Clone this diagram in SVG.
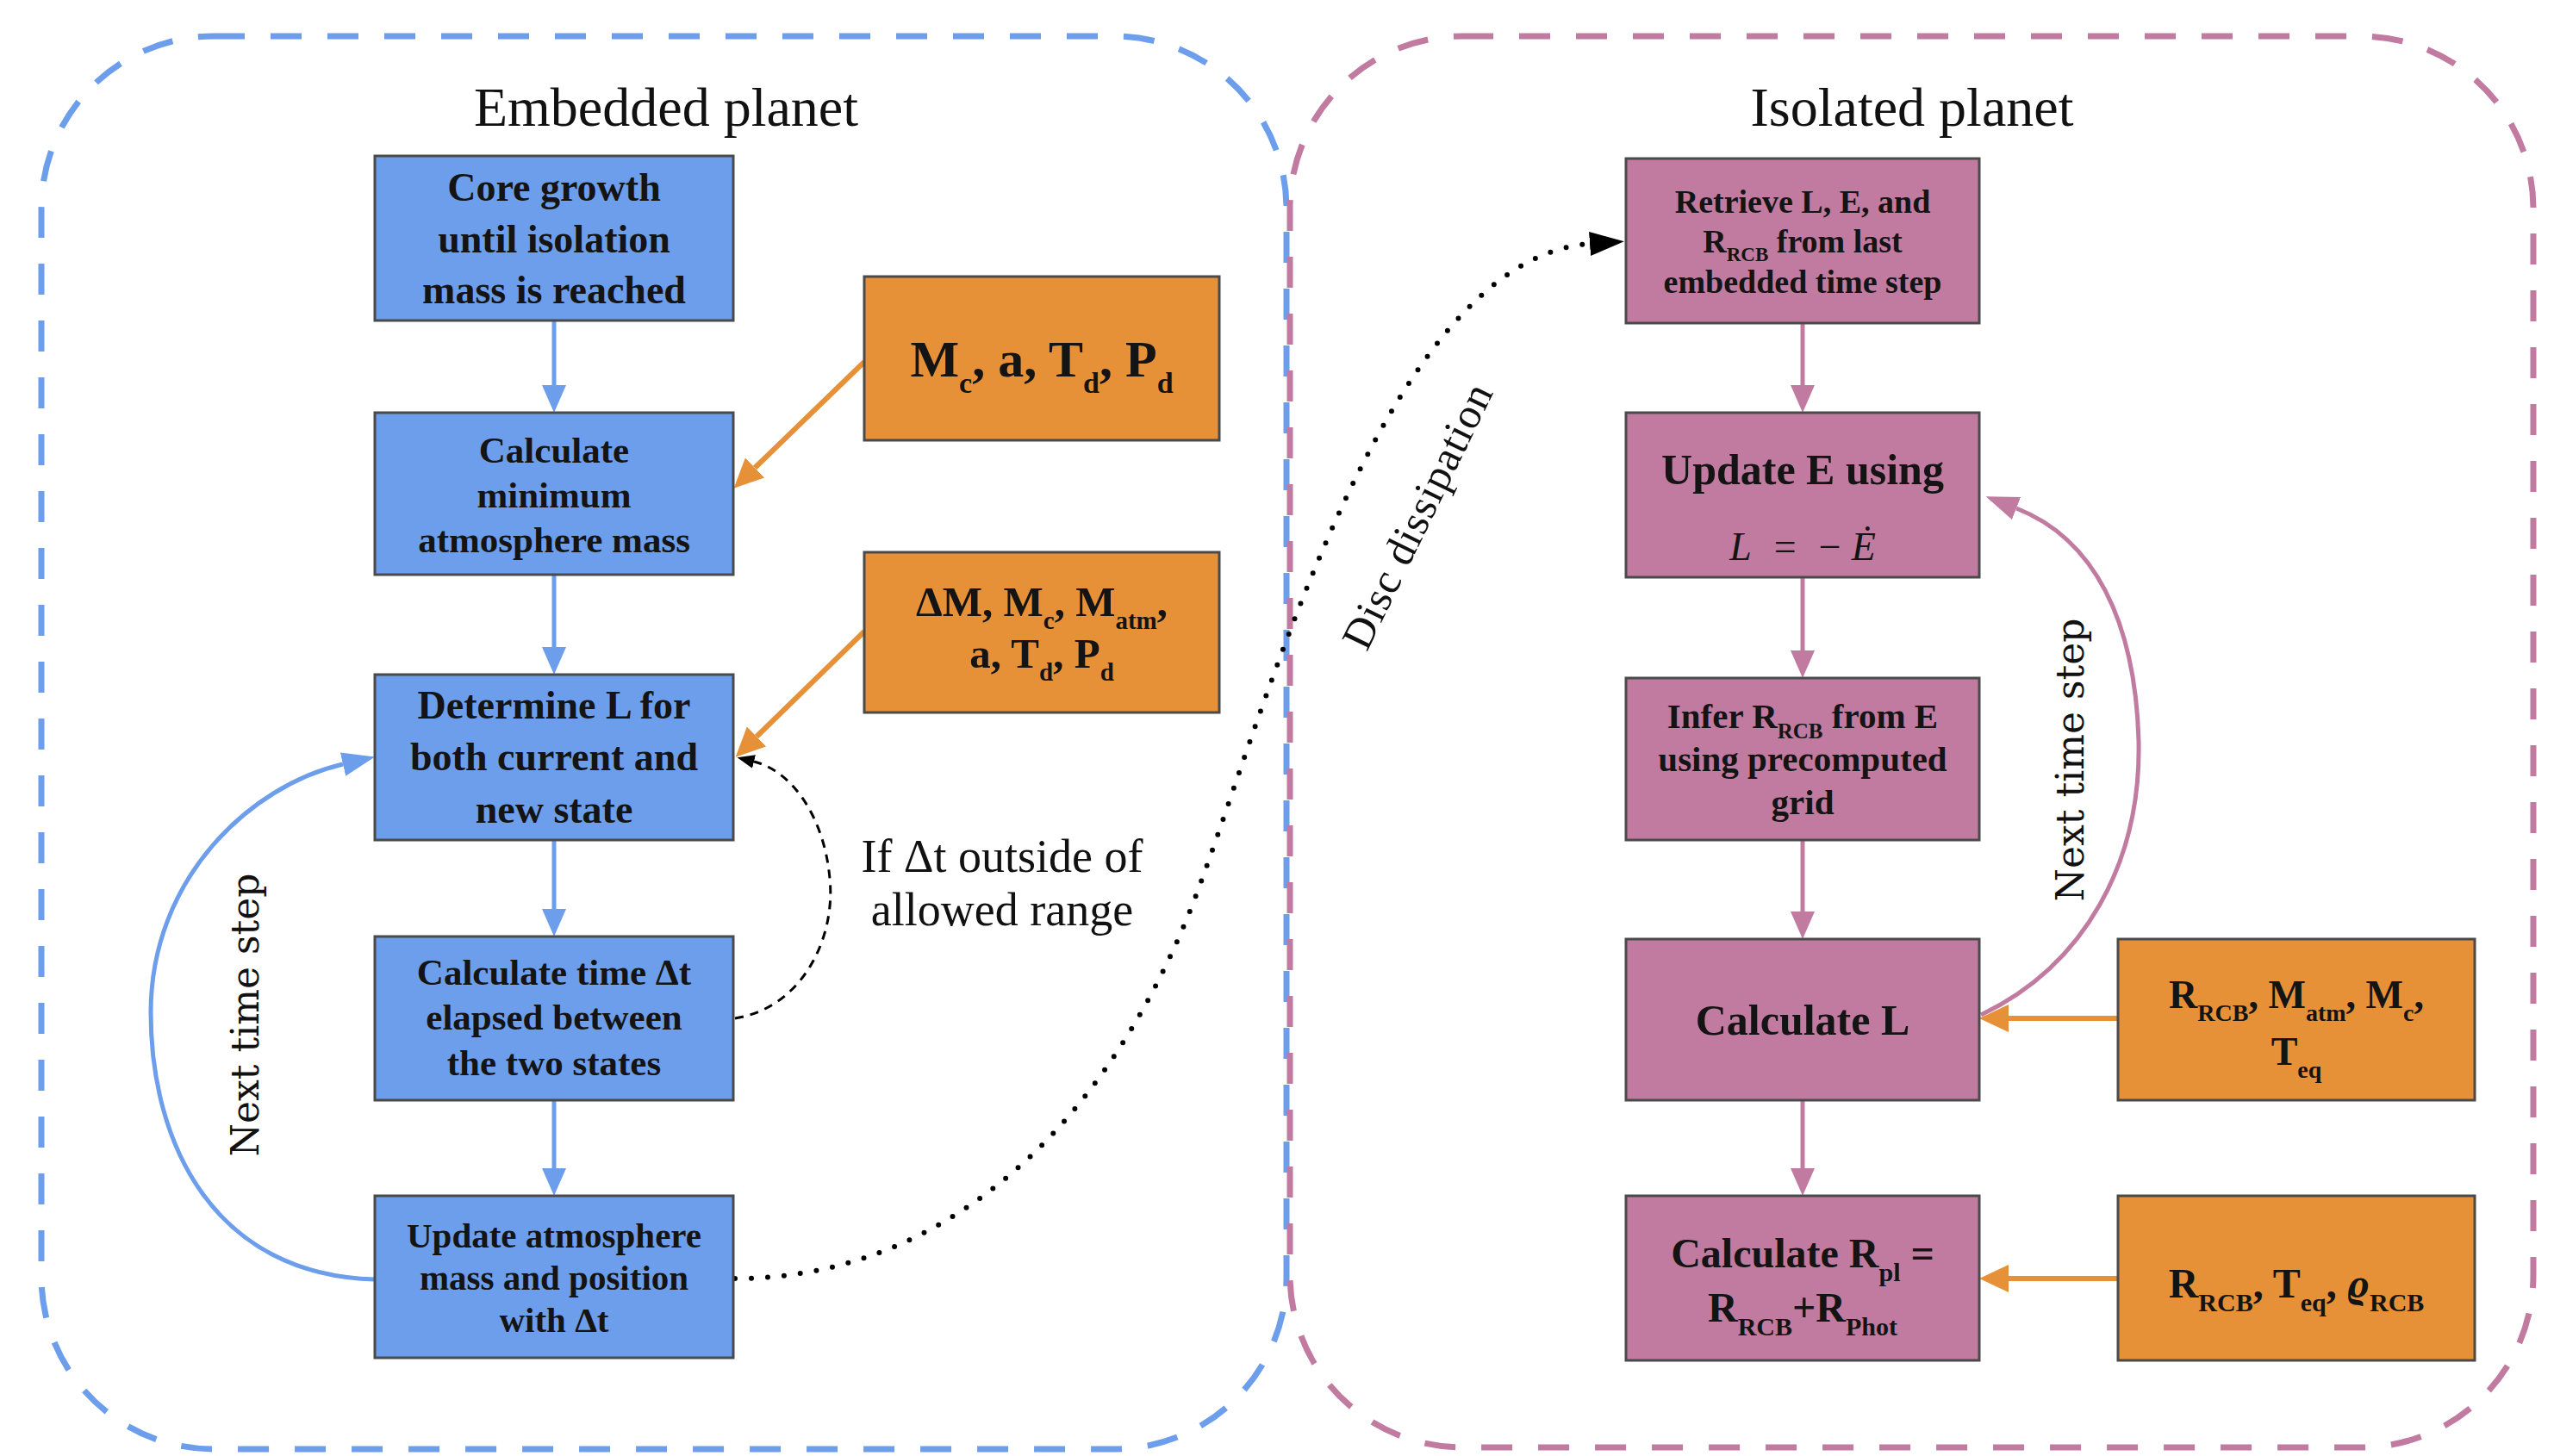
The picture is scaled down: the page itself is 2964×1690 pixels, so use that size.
<svg xmlns="http://www.w3.org/2000/svg" width="2964" height="1690" viewBox="0 0 2964 1690">
<defs>
<style>
.t{font-family:"Liberation Serif","Times New Roman",serif;fill:#141414;text-anchor:middle}
.b{font-weight:bold}
.lab{font-family:"Liberation Serif","Times New Roman",serif;fill:#111;text-anchor:middle}
.nts{font-family:"DejaVu Serif","Liberation Serif",serif;fill:#111;text-anchor:middle;font-size:44px}
.blue{fill:#6d9eeb;stroke:#4a4a4a;stroke-width:3}
.pink{fill:#c27ba0;stroke:#4a4a4a;stroke-width:3}
.orng{fill:#e69138;stroke:#4a4a4a;stroke-width:3}
.cb{fill:none;stroke:#6d9eeb;stroke-width:7;stroke-dasharray:36 30}
.cp{fill:none;stroke:#c27ba0;stroke-width:7;stroke-dasharray:36 30}
.lb{fill:none;stroke:#6d9eeb;stroke-width:5}
.lp{fill:none;stroke:#c27ba0;stroke-width:5}
.lo{fill:none;stroke:#e69138;stroke-width:6}
</style>
<marker id="aB" markerUnits="userSpaceOnUse" viewBox="0 0 32 28" markerWidth="32" markerHeight="28" refX="0" refY="14" orient="auto"><path d="M0,0 L32,14 L0,28 z" fill="#6d9eeb"/></marker>
<marker id="aBc" markerUnits="userSpaceOnUse" viewBox="0 0 38 28" markerWidth="38" markerHeight="28" refX="0" refY="14" orient="auto"><path d="M0,0 L38,14 L0,28 z" fill="#6d9eeb"/></marker>
<marker id="aP" markerUnits="userSpaceOnUse" viewBox="0 0 32 28" markerWidth="32" markerHeight="28" refX="0" refY="14" orient="auto"><path d="M0,0 L32,14 L0,28 z" fill="#c27ba0"/></marker>
<marker id="aPc" markerUnits="userSpaceOnUse" viewBox="0 0 38 28" markerWidth="38" markerHeight="28" refX="0" refY="14" orient="auto"><path d="M0,0 L38,14 L0,28 z" fill="#c27ba0"/></marker>
<marker id="aO" markerUnits="userSpaceOnUse" viewBox="0 0 34 32" markerWidth="34" markerHeight="32" refX="0" refY="16" orient="auto"><path d="M0,0 L34,16 L0,32 z" fill="#e69138"/></marker>
<marker id="aK" markerUnits="userSpaceOnUse" viewBox="0 0 20 16" markerWidth="20" markerHeight="16" refX="0" refY="8" orient="auto"><path d="M0,0 L20,8 L0,16 z" fill="#000"/></marker>
<marker id="aKb" markerUnits="userSpaceOnUse" viewBox="0 0 40 28" markerWidth="40" markerHeight="28" refX="0" refY="14" orient="auto"><path d="M0,0 L40,14 L0,28 z" fill="#000"/></marker>
</defs>
<rect width="2964" height="1690" fill="#ffffff"/>

<g id="container-embedded">
<rect class="cb" x="48" y="42" width="1445" height="1640" rx="200" ry="200"/>
<text class="lab" x="773" y="146" font-size="64">Embedded planet</text>
</g>
<g id="container-isolated">
<rect class="cp" x="1497" y="42" width="1443" height="1638" rx="200" ry="200"/>
<text class="lab" x="2219" y="146" font-size="64">Isolated planet</text>
</g>

<g id="connectors">
<path class="lb" d="M643,372 V447" marker-end="url(#aB)"/>
<path class="lb" d="M643,667 V751" marker-end="url(#aB)"/>
<path class="lb" d="M643,975 V1055" marker-end="url(#aB)"/>
<path class="lb" d="M643,1277 V1356" marker-end="url(#aB)"/>
<path class="lo" d="M1003,420 L876,543" marker-end="url(#aO)"/>
<path class="lo" d="M1003,733 L878,855" marker-end="url(#aO)"/>
<path class="lb" d="M435,1485 C250,1480 175,1330 175,1175 C175,1020 290,912 398,887" marker-end="url(#aBc)"/>
<path d="M853,1182 C930,1170 970,1090 963,1020 C957,950 920,895 875,884" fill="none" stroke="#000" stroke-width="3" stroke-dasharray="10 8" marker-end="url(#aK)"/>
<path d="M853,1484 C1080,1484 1270,1330 1380,1060 C1460,860 1600,300 1845,283" fill="none" stroke="#000" stroke-width="6" stroke-linecap="round" stroke-dasharray="0 19" marker-end="url(#aKb)"/>
<path class="lp" d="M2092,375 V447" marker-end="url(#aP)"/>
<path class="lp" d="M2092,670 V755" marker-end="url(#aP)"/>
<path class="lp" d="M2092,975 V1058" marker-end="url(#aP)"/>
<path class="lp" d="M2092,1277 V1356" marker-end="url(#aP)"/>
<path class="lp" d="M2299,1178 C2420,1120 2485,1000 2482,860 C2478,720 2430,625 2340,590" marker-end="url(#aPc)"/>
<path class="lo" d="M2458,1182 H2331" marker-end="url(#aO)"/>
<path class="lo" d="M2458,1484 H2331" marker-end="url(#aO)"/>
<text class="nts" transform="translate(300,1178) rotate(-90)">Next time step</text>
<text class="nts" transform="translate(2418,882) rotate(-90)">Next time step</text>
<text class="lab" font-size="54" x="1163" y="1012">If Δt outside of</text>
<text class="lab" font-size="54" x="1163" y="1074">allowed range</text>
<text class="lab" font-size="50" letter-spacing="1" transform="translate(1660,606) rotate(-64)">Disc dissipation</text>
</g>

<g id="core-growth">
<rect class="blue" x="435" y="181" width="416" height="191"/>
<text class="t b" font-size="46" x="643" y="233">Core growth</text>
<text class="t b" font-size="46" x="643" y="293">until isolation</text>
<text class="t b" font-size="46" x="643" y="352">mass is reached</text>
</g>
<g id="min-atm-mass">
<rect class="blue" x="435" y="479" width="416" height="188"/>
<text class="t b" font-size="43" x="643" y="537">Calculate</text>
<text class="t b" font-size="43" x="643" y="589">minimum</text>
<text class="t b" font-size="43" x="643" y="641">atmosphere mass</text>
</g>
<g id="determine-L">
<rect class="blue" x="435" y="783" width="416" height="192"/>
<text class="t b" font-size="46" x="643" y="834">Determine L for</text>
<text class="t b" font-size="46" x="643" y="894">both current and</text>
<text class="t b" font-size="46" x="643" y="955">new state</text>
</g>
<g id="calc-dt">
<rect class="blue" x="435" y="1087" width="416" height="190"/>
<text class="t b" font-size="43" x="643" y="1143">Calculate time Δt</text>
<text class="t b" font-size="43" x="643" y="1195">elapsed between</text>
<text class="t b" font-size="43" x="643" y="1248">the two states</text>
</g>
<g id="update-atm">
<rect class="blue" x="435" y="1388" width="416" height="188"/>
<text class="t b" font-size="41" x="643" y="1448">Update atmosphere</text>
<text class="t b" font-size="41" x="643" y="1497">mass and position</text>
<text class="t b" font-size="41" x="643" y="1546">with Δt</text>
</g>
<g id="inputs-1">
<rect class="orng" x="1003" y="321" width="412" height="190"/>
<text class="t b" font-size="60" x="1209" y="437">M<tspan font-size="34" dy="19">c</tspan><tspan dy="-19">, a, T</tspan><tspan font-size="34" dy="19">d</tspan><tspan dy="-19">, P</tspan><tspan font-size="34" dy="19">d</tspan></text>
</g>
<g id="inputs-2">
<rect class="orng" x="1003" y="641" width="412" height="186"/>
<text class="t b" font-size="49" x="1209" y="715">ΔM, M<tspan font-size="29" dy="15">c</tspan><tspan dy="-15">, M</tspan><tspan font-size="29" dy="15">atm</tspan><tspan dy="-15">,</tspan></text>
<text class="t b" font-size="49" x="1209" y="775">a, T<tspan font-size="29" dy="15">d</tspan><tspan dy="-15">, P</tspan><tspan font-size="29" dy="15">d</tspan></text>
</g>

<g id="retrieve">
<rect class="pink" x="1887" y="184" width="410" height="191"/>
<text class="t b" font-size="38" x="2092" y="247">Retrieve L, E, and</text>
<text class="t b" font-size="38" x="2092" y="293">R<tspan font-size="23" dy="10">RCB</tspan><tspan dy="-10"> from last</tspan></text>
<text class="t b" font-size="38" x="2092" y="340">embedded time step</text>
</g>
<g id="update-E">
<rect class="pink" x="1887" y="479" width="410" height="191"/>
<text class="t b" font-size="50" x="2092" y="562">Update E using</text>
<text class="t" font-size="46" x="2092" y="650" fill="#2a1026"><tspan font-style="italic">L</tspan><tspan dx="26">=</tspan><tspan dx="26">−</tspan><tspan dx="12" font-style="italic">Ė</tspan></text>
</g>
<g id="infer-RCB">
<rect class="pink" x="1887" y="787" width="410" height="188"/>
<text class="t b" font-size="41" x="2092" y="845">Infer R<tspan font-size="25" dy="12">RCB</tspan><tspan dy="-12"> from E</tspan></text>
<text class="t b" font-size="41" x="2092" y="895">using precomputed</text>
<text class="t b" font-size="41" x="2092" y="945">grid</text>
</g>
<g id="calc-L">
<rect class="pink" x="1887" y="1090" width="410" height="187"/>
<text class="t b" font-size="50" x="2092" y="1201">Calculate L</text>
</g>
<g id="calc-Rpl">
<rect class="pink" x="1887" y="1388" width="410" height="191"/>
<text class="t b" font-size="48" x="2092" y="1471">Calculate R<tspan font-size="30" dy="16">pl</tspan><tspan dy="-16"> =</tspan></text>
<text class="t b" font-size="48" x="2092" y="1534">R<tspan font-size="30" dy="16">RCB</tspan><tspan dy="-16">+R</tspan><tspan font-size="30" dy="16">Phot</tspan></text>
</g>
<g id="inputs-3">
<rect class="orng" x="2458" y="1090" width="414" height="187"/>
<text class="t b" font-size="46" x="2665" y="1170">R<tspan font-size="28" dy="15">RCB</tspan><tspan dy="-15">, M</tspan><tspan font-size="28" dy="15">atm</tspan><tspan dy="-15">, M</tspan><tspan font-size="28" dy="15">c</tspan><tspan dy="-15">,</tspan></text>
<text class="t b" font-size="46" x="2665" y="1236">T<tspan font-size="28" dy="15">eq</tspan></text>
</g>
<g id="inputs-4">
<rect class="orng" x="2458" y="1388" width="414" height="191"/>
<text class="t b" font-size="48" x="2665" y="1506">R<tspan font-size="30" dy="16">RCB</tspan><tspan dy="-16">, T</tspan><tspan font-size="30" dy="16">eq</tspan><tspan dy="-16">, </tspan><tspan font-style="italic">ϱ</tspan><tspan font-size="30" dy="16">RCB</tspan></text>
</g>
</svg>
